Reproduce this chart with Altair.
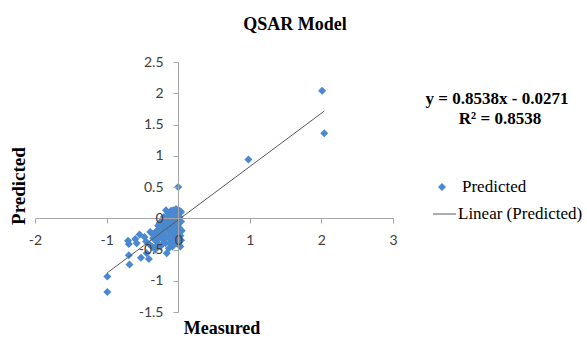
import altair as alt
import pandas as pd

# Measured vs. predicted activity values of the QSAR training set
measured = [
    2.01, 2.04, 0.98, 0.00, -0.99, -0.99,
    -0.69, -0.70, -0.69, -0.68, -0.58, -0.54, -0.45, -0.44, -0.52, -0.41,
    -0.39, -0.36, -0.47, -0.60,
    -0.33, -0.30, -0.30, -0.28, -0.27, -0.25, -0.24, -0.23, -0.22, -0.20,
    -0.20, -0.19, -0.18, -0.17, -0.16, -0.16, -0.15, -0.14, -0.14, -0.13,
    -0.12, -0.12, -0.11, -0.10, -0.10, -0.09, -0.08, -0.08, -0.07, -0.06,
    -0.06, -0.05, -0.05, -0.04, -0.03, -0.03, -0.02, -0.02, -0.01, -0.01,
    0.00, 0.00, 0.01, 0.02, 0.02, 0.03, 0.04, 0.04, 0.05, 0.03,
    -0.26, -0.36, -0.40, -0.32, -0.21, -0.13, -0.09, -0.04, 0.01, -0.18,
    -0.35, -0.31, -0.29, -0.26, -0.24, -0.22, -0.19, -0.18, -0.15, -0.12,
    -0.11, -0.09, -0.07, -0.06, -0.04, -0.02, 0.00, 0.02, 0.04, -0.14,
    -0.08, -0.30,
]
predicted = [
    2.04, 1.36, 0.94, 0.50, -0.93, -1.18,
    -0.41, -0.36, -0.59, -0.74, -0.40, -0.26, -0.37, -0.56, -0.63, -0.65,
    -0.22, -0.46, -0.30, -0.33,
    -0.30, -0.20, -0.38, -0.12, -0.28, -0.45, -0.05, -0.20, -0.33, 0.02,
    -0.12, -0.26, -0.40, 0.13, -0.56, -0.05, -0.18, 0.08, -0.30, -0.48,
    0.00, -0.10, -0.22, 0.12, -0.36, 0.04, -0.05, -0.15, -0.28, 0.09,
    -0.42, 0.02, -0.08, -0.20, 0.15, -0.32, -0.02, -0.12, 0.06, -0.25,
    0.05, -0.38, -0.06, 0.02, -0.16, -0.28, -0.05, 0.10, -0.20, -0.45,
    -0.08, -0.25, -0.42, -0.50, -0.40, -0.15, -0.22, -0.12, -0.33, -0.08,
    -0.32, -0.26, -0.33, -0.18, -0.30, -0.10, -0.04, -0.32, 0.02, -0.40,
    0.05, -0.30, 0.13, -0.18, 0.08, -0.40, -0.10, 0.12, -0.35, -0.08,
    -0.45, -0.44,
]

x_ticks = [-2, -1, 0, 1, 2, 3]
y_ticks = [-1.5, -1, -0.5, 0, 0.5, 1, 1.5, 2, 2.5]

slope = 0.8538
intercept = -0.0271
r_squared = 0.8538

title_text = ["QSAR Model"]
x_title = ["Measured"]
y_title = ["Predicted"]
equation = [f"y = {slope}x - {abs(intercept)}"]
r2_text = [f"R² = {r_squared}"]
legend_points = ["Predicted"]
legend_line = ["Linear (Predicted)"]

BLUE = "#4A89D0"
LINE = "#595959"
AXIS = "#A6A6A6"
W, H = 358, 250

pts = pd.DataFrame({"Measured": measured, "Predicted": predicted})

# Linear trendline spanning the measured range
x_lo, x_hi = min(measured), max(measured)
trend = pd.DataFrame({
    "Measured": [x_lo, x_hi],
    "Predicted": [slope * x_lo + intercept, slope * x_hi + intercept],
})

xs = alt.Scale(domain=[-2, 3], nice=False, zero=False)
ys = alt.Scale(domain=[-1.5, 2.5], nice=False, zero=False)

axis_common = dict(
    grid=False, domainColor=AXIS, tickColor=AXIS, tickSize=5,
    labelFont="Lato", labelFontSize=14, labelColor="#404040",
    labelOverlap=False, labelFlush=False, labelBound=False, title=None,
    labelExpr="datum.value + ''", zindex=1,
)
# Axes cross at the origin
x_axis = alt.Axis(values=x_ticks, offset=-94, labelPadding=10, **axis_common)
y_axis = alt.Axis(values=y_ticks, offset=-143, labelPadding=10, **axis_common)

x_enc = alt.X("Measured:Q", scale=xs, axis=x_axis)
y_enc = alt.Y("Predicted:Q", scale=ys, axis=y_axis)

points = alt.Chart(pts).mark_point(
    shape="diamond", filled=True, size=64, color=BLUE, opacity=1
).encode(x=x_enc, y=y_enc)

line = alt.Chart(trend).mark_line(color=LINE, strokeWidth=1).encode(
    x=x_enc, y=y_enc
)


def label(texts, x, y, size, bold=True, align="center", angle=0):
    return alt.Chart(pd.DataFrame({"t": texts})).mark_text(
        font="Liberation Serif", fontSize=size,
        fontWeight="bold" if bold else "normal",
        color="#000000", align=align, baseline="middle", angle=angle,
    ).encode(x=alt.value(x), y=alt.value(y), text="t:N")


title = label(title_text, 260, -37, 18)
xt = label(x_title, 187, 267, 18)
yt = label(y_title, -16, 124, 19, angle=270)
eq = label(equation, 462, 37, 17)
r2 = label(r2_text, 465, 57, 17)

leg_sym = alt.Chart(pd.DataFrame({"t": legend_points})).mark_point(
    shape="diamond", filled=True, size=64, color=BLUE, opacity=1
).encode(x=alt.value(407), y=alt.value(125))
leg_pt_text = label(legend_points, 427, 125, 17, bold=False, align="left")
leg_line = alt.Chart(pd.DataFrame({"t": legend_line})).mark_rule(
    color=LINE, strokeWidth=1
).encode(x=alt.value(398), x2=alt.value(421), y=alt.value(152))
leg_line_text = label(legend_line, 423, 152, 17, bold=False, align="left")

chart = alt.layer(
    points, line, title, xt, yt, eq, r2,
    leg_sym, leg_pt_text, leg_line, leg_line_text,
).properties(
    width=W, height=H,
    autosize=alt.AutoSizeParams(type="none"),
    padding={"left": 35, "top": 62, "right": 194, "bottom": 26},
    background="#FFFFFF",
).configure_view(strokeWidth=0)

chart.save("out.html", embed_options={"renderer": "svg", "actions": False})
